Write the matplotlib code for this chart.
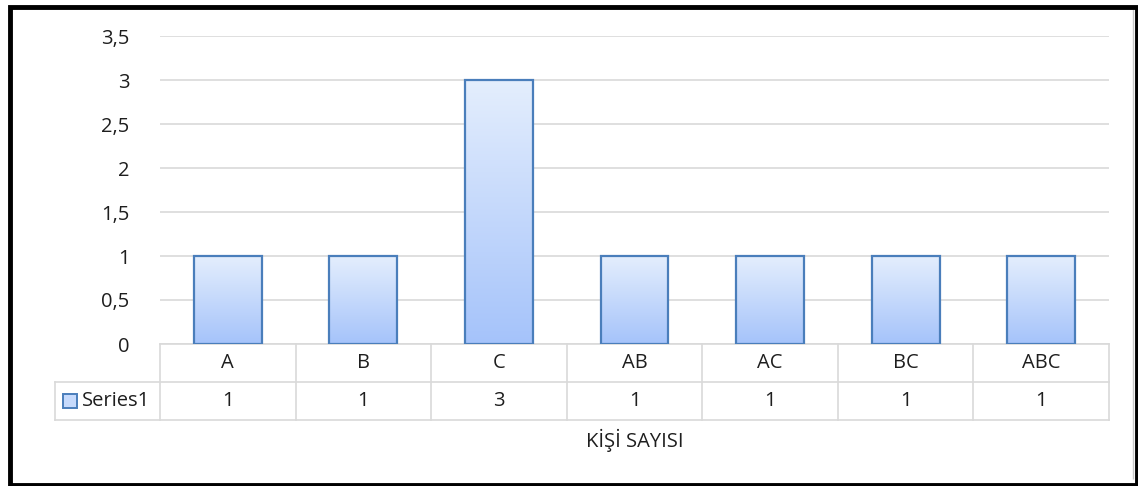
import numpy as np
import matplotlib.pyplot as plt
from matplotlib.colors import LinearSegmentedColormap
from matplotlib.patches import Rectangle
import matplotlib.transforms as mtransforms

categories = ["A", "B", "C", "AB", "AC", "BC", "ABC"]
values = [1, 1, 3, 1, 1, 1, 1]
series_name = "Series1"
axis_title = "KİŞİ SAYISI"
y_ticks = [0, 0.5, 1, 1.5, 2, 2.5, 3, 3.5]

plt.rcParams['font.family'] = ['Open Sans', 'DejaVu Sans']
text_color = '#1e1e1e'
grid_color = '#d9d9d9'
edge_color = '#4a7ebb'
grad = LinearSegmentedColormap.from_list('bar', ['#a5c3fa', '#e4eefd'])
fs = 14.5

W, H = 1138, 486
fig = plt.figure(figsize=(W / 100, H / 100), dpi=100)

# plot area in pixels
left, right, top, bottom = 160, 1109, 36, 344
ax = fig.add_axes([left / W, 1 - bottom / H, (right - left) / W, (bottom - top) / H])
for s in ax.spines.values():
    s.set_visible(False)
ax.set_xticks([])
ax.set_yticks(y_ticks)
ax.set_yticklabels([f"{t:g}".replace('.', ',') for t in y_ticks])
ax.tick_params(axis='y', length=0, pad=22, labelsize=fs, labelcolor=text_color)
ax.yaxis.grid(True, color=grid_color, lw=1.2)
ax.set_axisbelow(True)

x = np.arange(len(categories))
bars = ax.bar(x, values, width=0.5, facecolor='none', edgecolor=edge_color, lw=1.6, zorder=3)
g = np.linspace(0, 1, 256).reshape(-1, 1)
for b in bars:
    im = ax.imshow(g, cmap=grad, origin='lower', aspect='auto', zorder=2,
                   extent=[b.get_x(), b.get_x() + b.get_width(), 0, b.get_height()])
    im.set_clip_path(b)
ax.set_xlim(-0.5, len(categories) - 0.5)
ax.set_ylim(0, 3.5)

# data table below the axis
ph = bottom - top
r1 = -(382 - bottom) / ph
r2 = -(420 - bottom) / ph
trans = mtransforms.blended_transform_factory(ax.transData, ax.transAxes)
xl = -0.5 - (left - 55) / ((right - left) / len(categories))
kw = dict(transform=trans, clip_on=False, color=grid_color, lw=1.2)
ax.plot([-0.5, len(categories) - 0.5], [0, 0], **kw)
ax.plot([xl, len(categories) - 0.5], [r1, r1], **kw)
ax.plot([xl, len(categories) - 0.5], [r2, r2], **kw)
for k in range(len(categories) + 1):
    ax.plot([k - 0.5, k - 0.5], [0, r2], **kw)
ax.plot([xl, xl], [r1, r2], **kw)
for xi, c, v in zip(x, categories, values):
    ax.text(xi, r1 / 2, c, transform=trans, ha='center', va='center',
            fontsize=fs, color=text_color)
    ax.text(xi, (r1 + r2) / 2, f"{v:g}", transform=trans, ha='center', va='center',
            fontsize=fs, color=text_color)

# legend key in table
fig.patches.append(Rectangle((63 / W, 1 - 408 / H), 14 / W, 14 / H, transform=fig.transFigure,
                             facecolor='#c6dafc', edgecolor=edge_color, lw=1.4))
fig.text(82 / W, 1 - 401 / H, series_name, ha='left', va='center', fontsize=fs, color=text_color)

fig.text((left + right) / 2 / W, 1 - 440 / H, axis_title, ha='center', va='center',
         fontsize=fs, color=text_color)

# outer frame
fig.patches.append(Rectangle((1133 / W, 7 / H), 0, (H - 16) / H, transform=fig.transFigure,
                             facecolor='none', edgecolor='#c8c8c8', lw=1))
fig.patches.append(Rectangle((10 / W, 1.5 / H), 1126.5 / W, 477.5 / H,
                             transform=fig.transFigure, facecolor='none',
                             edgecolor='black', lw=3.5))

fig.savefig('out.png', dpi=100)
